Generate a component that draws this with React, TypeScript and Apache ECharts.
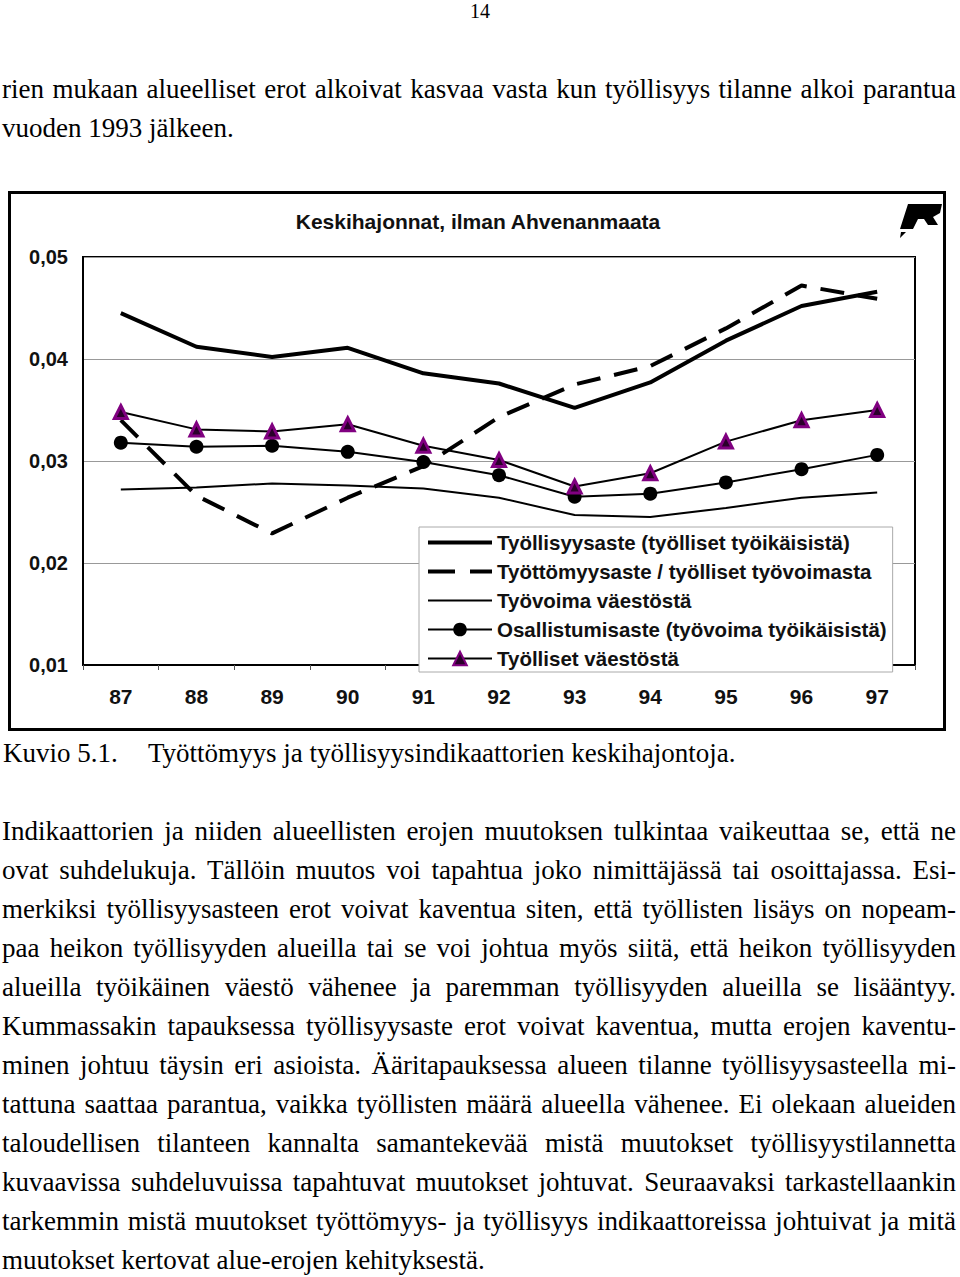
import React, { useEffect, useRef } from "react";
import * as echarts from "echarts";

const years = ["87", "88", "89", "90", "91", "92", "93", "94", "95", "96", "97"];
const tyollisyysaste = [0.0445, 0.0412, 0.0402, 0.0411, 0.0386, 0.0376, 0.0352, 0.0377, 0.0418, 0.0452, 0.0466];
const tyottomyysaste = [0.034, 0.0266, 0.0229, 0.0264, 0.0295, 0.0343, 0.0375, 0.0393, 0.043, 0.0472, 0.0459];
const tyovoima = [0.0272, 0.0274, 0.0278, 0.0276, 0.0273, 0.0264, 0.0247, 0.0245, 0.0254, 0.0264, 0.0269];
const osallistumisaste = [0.0318, 0.0314, 0.0315, 0.0309, 0.0299, 0.0286, 0.0265, 0.0268, 0.0279, 0.0292, 0.0306];
const tyolliset = [0.0348, 0.0331, 0.0329, 0.0336, 0.0315, 0.0301, 0.0275, 0.0288, 0.0319, 0.034, 0.035];

const seriesNames = [
  "Työllisyysaste (työlliset työikäisistä)",
  "Työttömyysaste / työlliset työvoimasta",
  "Työvoima väestöstä",
  "Osallistumisaste (työvoima työikäisistä)",
  "Työlliset väestöstä",
];

const chartTitle = "Keskihajonnat, ilman Ahvenanmaata";

const topLines = [
  { y: 91, text: "rien mukaan alueelliset erot alkoivat kasvaa vasta kun työllisyys tilanne alkoi parantua", j: true },
  { y: 130, text: "vuoden 1993 jälkeen.", j: false },
];

const paraLines = [
  { y: 833, text: "Indikaattorien ja niiden alueellisten erojen muutoksen tulkintaa vaikeuttaa se, että ne", j: true },
  { y: 872, text: "ovat suhdelukuja. Tällöin muutos voi tapahtua joko nimittäjässä tai osoittajassa. Esi-", j: true },
  { y: 911, text: "merkiksi työllisyysasteen erot voivat kaventua siten, että työllisten lisäys on nopeam-", j: true },
  { y: 950, text: "paa heikon työllisyyden alueilla tai se voi johtua myös siitä, että heikon työllisyyden", j: true },
  { y: 989, text: "alueilla työikäinen väestö vähenee ja paremman työllisyyden alueilla se lisääntyy.", j: true },
  { y: 1028, text: "Kummassakin tapauksessa työllisyysaste erot voivat kaventua, mutta erojen kaventu-", j: true },
  { y: 1067, text: "minen johtuu täysin eri asioista. Ääritapauksessa alueen tilanne työllisyysasteella mi-", j: true },
  { y: 1106, text: "tattuna saattaa parantua, vaikka työllisten määrä alueella vähenee. Ei olekaan alueiden", j: true },
  { y: 1145, text: "taloudellisen tilanteen kannalta samantekevää mistä muutokset työllisyystilannetta", j: true },
  { y: 1184, text: "kuvaavissa suhdeluvuissa tapahtuvat muutokset johtuvat. Seuraavaksi tarkastellaankin", j: true },
  { y: 1223, text: "tarkemmin mistä muutokset työttömyys- ja työllisyys indikaattoreissa johtuivat ja mitä", j: true },
  { y: 1262, text: "muutokset kertovat alue-erojen kehityksestä.", j: false },
];

const serif = '"Liberation Serif", "Times New Roman", serif';
const sans = '"Liberation Sans", Arial, sans-serif';

const logoPath =
  "M8,1 L42,1 L40,10 L33,14 L38,22 L28,22 L24,16 L18,16 L13,26 L0,26 Z M1,29 L6,29 L0,35 Z";

let logoRegistered = false;

const BODY_FS = 27;

function Line({ y, text, j }: { y: number; text: string; j: boolean }) {
  return (
    <div
      style={{
        position: "absolute",
        left: 2,
        width: 954,
        top: y - 21,
        fontFamily: serif,
        fontSize: BODY_FS,
        lineHeight: "39px",
        color: "#000",
        whiteSpace: "nowrap",
        textAlign: j ? "justify" : "left",
        textAlignLast: j ? "justify" : "left",
      } as React.CSSProperties}
    >
      {text}
    </div>
  );
}

const CH_TOP = 185;

export default function App() {
  const ref = useRef<HTMLDivElement>(null);

  useEffect(() => {
    if (!ref.current) return;
    if (!logoRegistered) {
      echarts.graphic.registerShape("logo", echarts.graphic.extendPath(logoPath, {}));
      logoRegistered = true;
    }
    const chart = echarts.init(ref.current, null, { renderer: "svg" });
    const thin = { color: "#000", width: 2 };
    chart.setOption({
      animation: false,
      backgroundColor: "#fff",
      grid: {
        left: 83,
        right: 45,
        top: 257 - CH_TOP,
        bottom: CH_TOP + 560 - 665,
        show: true,
        borderColor: "#000",
        borderWidth: 2,
        backgroundColor: "transparent",
      },
      xAxis: {
        type: "category",
        data: years,
        boundaryGap: true,
        axisLine: { show: true, lineStyle: { color: "#000", width: 2 } },
        axisTick: { show: true, length: 5, lineStyle: { color: "#555", width: 1 } },
        axisLabel: {
          margin: 21,
          fontFamily: sans,
          fontWeight: "bold",
          fontSize: 21,
          color: "#111",
        },
      },
      yAxis: {
        type: "value",
        min: 0.01,
        max: 0.05,
        interval: 0.01,
        axisLine: { show: true, lineStyle: { color: "#000", width: 2 } },
        axisTick: { show: false },
        splitLine: { show: true, lineStyle: { color: "#999", width: 1 } },
        axisLabel: {
          margin: 15,
          fontFamily: sans,
          fontWeight: "bold",
          fontSize: 20,
          color: "#111",
          formatter: (v: number) => v.toFixed(2).replace(".", ","),
        },
      },
      legend: {
        orient: "vertical",
        left: 419,
        top: 527 - CH_TOP,
        backgroundColor: "#fff",
        borderColor: "#aaa",
        borderWidth: 1,
        padding: [5, 6, 3, 7],
        itemWidth: 64,
        itemHeight: 17,
        itemGap: 8,
        textStyle: {
          fontFamily: sans,
          fontWeight: "bold",
          fontSize: 20.5,
          lineHeight: 21,
          color: "#111",
        },
        data: [
          { name: seriesNames[0], itemStyle: { opacity: 0 }, lineStyle: { width: 4, type: "solid" } },
          { name: seriesNames[1], itemStyle: { opacity: 0 }, lineStyle: { width: 4, type: [27, 15] } },
          { name: seriesNames[2], itemStyle: { opacity: 0 }, lineStyle: { width: 2, type: "solid" } },
          { name: seriesNames[3], lineStyle: { width: 2, type: "solid" } },
          { name: seriesNames[4], lineStyle: { width: 2, type: "solid" } },
        ],
        z: 10,
      },
      series: [
        {
          name: seriesNames[0],
          type: "line",
          data: tyollisyysaste,
          symbol: "none",
          lineStyle: { color: "#000", width: 4 },
          itemStyle: { color: "#000" },
        },
        {
          name: seriesNames[1],
          type: "line",
          data: tyottomyysaste,
          symbol: "none",
          lineStyle: { color: "#000", width: 4, type: [24, 14] },
          itemStyle: { color: "#000" },
        },
        {
          name: seriesNames[2],
          type: "line",
          data: tyovoima,
          symbol: "none",
          lineStyle: thin,
          itemStyle: { color: "#000" },
        },
        {
          name: seriesNames[3],
          type: "line",
          data: osallistumisaste,
          symbol: "circle",
          symbolSize: 14,
          lineStyle: thin,
          itemStyle: { color: "#000" },
        },
        {
          name: seriesNames[4],
          type: "line",
          data: tyolliset,
          symbol: "triangle",
          symbolSize: 13,
          lineStyle: thin,
          itemStyle: { color: "#2a002a", borderColor: "#800080", borderWidth: 3 },
        },
      ],
      graphic: [
        {
          type: "rect",
          shape: { x: 9.5, y: 192.5 - CH_TOP, width: 935, height: 537 },
          style: { fill: "none", stroke: "#000", lineWidth: 3 },
          silent: true,
        },
        {
          type: "text",
          x: 478,
          y: 221 - CH_TOP,
          style: {
            text: chartTitle,
            font: `bold 21px ${sans}`,
            fill: "#111",
            textAlign: "center",
            textVerticalAlign: "middle",
          },
        },
        {
          type: "logo",
          x: 900,
          y: 203 - CH_TOP,
          scaleX: 1,
          scaleY: 1,
          style: { fill: "#000" },
        },
      ],
    });
    return () => chart.dispose();
  }, []);

  return (
    <div style={{ position: "absolute", left: 0, top: 0, width: 960, height: 1277, background: "#fff" }}>
      <div
        style={{
          position: "absolute",
          left: 0,
          width: 960,
          top: 0,
          textAlign: "center",
          fontFamily: serif,
          fontSize: 20,
          lineHeight: "22px",
        }}
      >
        14
      </div>
      {topLines.map((l, i) => (
        <Line key={"t" + i} {...l} />
      ))}
      <div ref={ref} style={{ position: "absolute", left: 0, top: CH_TOP, width: 960, height: 560 }} />
      <div
        style={{
          position: "absolute",
          left: 3,
          top: 755 - 21,
          fontFamily: serif,
          fontSize: BODY_FS,
          lineHeight: "39px",
        }}
      >
        Kuvio 5.1.
      </div>
      <div
        style={{
          position: "absolute",
          left: 148,
          top: 755 - 21,
          fontFamily: serif,
          fontSize: BODY_FS,
          lineHeight: "39px",
        }}
      >
        Työttömyys ja työllisyysindikaattorien keskihajontoja.
      </div>
      {paraLines.map((l, i) => (
        <Line key={"p" + i} {...l} />
      ))}
    </div>
  );
}
